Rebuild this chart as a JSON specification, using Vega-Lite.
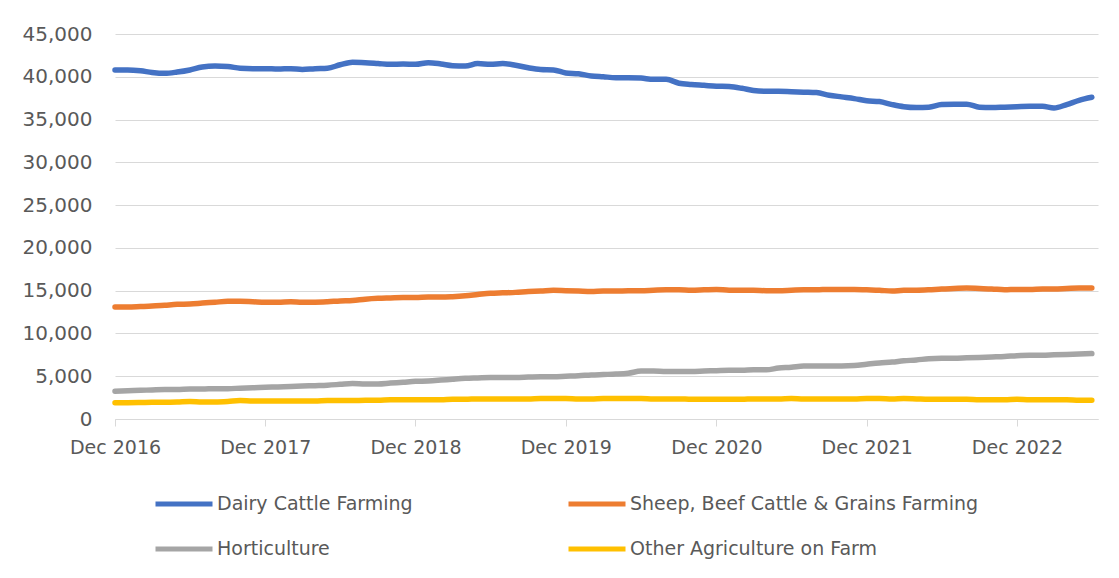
{
  "$schema": "https://vega.github.io/schema/vega-lite/v6.json",
  "autosize": {"type": "none"},
  "width": 983,
  "height": 385,
  "padding": {"left": 115, "top": 34, "right": 21, "bottom": 159},
  "background": "white",
  "config": {
    "view": {"stroke": null},
    "font": "DejaVu Sans"
  },
  "data": {
    "values": [
      {"m": "2016/12/01", "dairy": 40800, "sheep": 13100, "hort": 3250, "other": 1900},
      {"m": "2017/01/01", "dairy": 40800, "sheep": 13100, "hort": 3300, "other": 1900},
      {"m": "2017/02/01", "dairy": 40700, "sheep": 13150, "hort": 3350, "other": 1920},
      {"m": "2017/03/01", "dairy": 40500, "sheep": 13200, "hort": 3400, "other": 1950},
      {"m": "2017/04/01", "dairy": 40400, "sheep": 13300, "hort": 3450, "other": 1950},
      {"m": "2017/05/01", "dairy": 40550, "sheep": 13400, "hort": 3450, "other": 1980},
      {"m": "2017/06/01", "dairy": 40800, "sheep": 13450, "hort": 3500, "other": 2050},
      {"m": "2017/07/01", "dairy": 41150, "sheep": 13550, "hort": 3500, "other": 2000},
      {"m": "2017/08/01", "dairy": 41250, "sheep": 13650, "hort": 3550, "other": 2000},
      {"m": "2017/09/01", "dairy": 41200, "sheep": 13750, "hort": 3550, "other": 2050},
      {"m": "2017/10/01", "dairy": 41000, "sheep": 13750, "hort": 3600, "other": 2150},
      {"m": "2017/11/01", "dairy": 40950, "sheep": 13700, "hort": 3650, "other": 2100},
      {"m": "2017/12/01", "dairy": 40950, "sheep": 13650, "hort": 3700, "other": 2100},
      {"m": "2018/01/01", "dairy": 40900, "sheep": 13650, "hort": 3750, "other": 2100},
      {"m": "2018/02/01", "dairy": 40950, "sheep": 13700, "hort": 3800, "other": 2100},
      {"m": "2018/03/01", "dairy": 40850, "sheep": 13650, "hort": 3850, "other": 2100},
      {"m": "2018/04/01", "dairy": 40950, "sheep": 13650, "hort": 3900, "other": 2100},
      {"m": "2018/05/01", "dairy": 41000, "sheep": 13700, "hort": 3950, "other": 2150},
      {"m": "2018/06/01", "dairy": 41400, "sheep": 13800, "hort": 4050, "other": 2150},
      {"m": "2018/07/01", "dairy": 41700, "sheep": 13850, "hort": 4150, "other": 2150},
      {"m": "2018/08/01", "dairy": 41650, "sheep": 14000, "hort": 4100, "other": 2200},
      {"m": "2018/09/01", "dairy": 41550, "sheep": 14100, "hort": 4100, "other": 2200},
      {"m": "2018/10/01", "dairy": 41450, "sheep": 14150, "hort": 4200, "other": 2250},
      {"m": "2018/11/01", "dairy": 41500, "sheep": 14200, "hort": 4300, "other": 2250},
      {"m": "2018/12/01", "dairy": 41450, "sheep": 14200, "hort": 4400, "other": 2250},
      {"m": "2019/01/01", "dairy": 41650, "sheep": 14250, "hort": 4450, "other": 2250},
      {"m": "2019/02/01", "dairy": 41500, "sheep": 14250, "hort": 4550, "other": 2250},
      {"m": "2019/03/01", "dairy": 41300, "sheep": 14300, "hort": 4650, "other": 2300},
      {"m": "2019/04/01", "dairy": 41250, "sheep": 14400, "hort": 4750, "other": 2300},
      {"m": "2019/05/01", "dairy": 41550, "sheep": 14550, "hort": 4800, "other": 2350},
      {"m": "2019/06/01", "dairy": 41450, "sheep": 14700, "hort": 4850, "other": 2350},
      {"m": "2019/07/01", "dairy": 41550, "sheep": 14750, "hort": 4850, "other": 2350},
      {"m": "2019/08/01", "dairy": 41350, "sheep": 14800, "hort": 4850, "other": 2350},
      {"m": "2019/09/01", "dairy": 41050, "sheep": 14900, "hort": 4900, "other": 2350},
      {"m": "2019/10/01", "dairy": 40850, "sheep": 14950, "hort": 4950, "other": 2400},
      {"m": "2019/11/01", "dairy": 40800, "sheep": 15050, "hort": 4950, "other": 2400},
      {"m": "2019/12/01", "dairy": 40450, "sheep": 15000, "hort": 5000, "other": 2400},
      {"m": "2020/01/01", "dairy": 40350, "sheep": 14950, "hort": 5050, "other": 2350},
      {"m": "2020/02/01", "dairy": 40100, "sheep": 14900, "hort": 5150, "other": 2350},
      {"m": "2020/03/01", "dairy": 40000, "sheep": 14950, "hort": 5200, "other": 2400},
      {"m": "2020/04/01", "dairy": 39900, "sheep": 14950, "hort": 5250, "other": 2400},
      {"m": "2020/05/01", "dairy": 39900, "sheep": 15000, "hort": 5350, "other": 2400},
      {"m": "2020/06/01", "dairy": 39850, "sheep": 15000, "hort": 5600, "other": 2400},
      {"m": "2020/07/01", "dairy": 39700, "sheep": 15050, "hort": 5600, "other": 2350},
      {"m": "2020/08/01", "dairy": 39700, "sheep": 15100, "hort": 5550, "other": 2350},
      {"m": "2020/09/01", "dairy": 39250, "sheep": 15100, "hort": 5550, "other": 2350},
      {"m": "2020/10/01", "dairy": 39100, "sheep": 15050, "hort": 5550, "other": 2300},
      {"m": "2020/11/01", "dairy": 39000, "sheep": 15100, "hort": 5600, "other": 2300},
      {"m": "2020/12/01", "dairy": 38900, "sheep": 15150, "hort": 5650, "other": 2300},
      {"m": "2021/01/01", "dairy": 38850, "sheep": 15050, "hort": 5700, "other": 2300},
      {"m": "2021/02/01", "dairy": 38650, "sheep": 15050, "hort": 5700, "other": 2300},
      {"m": "2021/03/01", "dairy": 38400, "sheep": 15050, "hort": 5750, "other": 2350},
      {"m": "2021/04/01", "dairy": 38300, "sheep": 15000, "hort": 5750, "other": 2350},
      {"m": "2021/05/01", "dairy": 38300, "sheep": 15000, "hort": 5950, "other": 2350},
      {"m": "2021/06/01", "dairy": 38250, "sheep": 15050, "hort": 6050, "other": 2400},
      {"m": "2021/07/01", "dairy": 38200, "sheep": 15100, "hort": 6200, "other": 2350},
      {"m": "2021/08/01", "dairy": 38150, "sheep": 15100, "hort": 6200, "other": 2350},
      {"m": "2021/09/01", "dairy": 37850, "sheep": 15150, "hort": 6200, "other": 2350},
      {"m": "2021/10/01", "dairy": 37650, "sheep": 15150, "hort": 6200, "other": 2350},
      {"m": "2021/11/01", "dairy": 37450, "sheep": 15150, "hort": 6250, "other": 2350},
      {"m": "2021/12/01", "dairy": 37200, "sheep": 15100, "hort": 6400, "other": 2400},
      {"m": "2022/01/01", "dairy": 37100, "sheep": 15050, "hort": 6550, "other": 2400},
      {"m": "2022/02/01", "dairy": 36750, "sheep": 14950, "hort": 6650, "other": 2350},
      {"m": "2022/03/01", "dairy": 36500, "sheep": 15050, "hort": 6800, "other": 2400},
      {"m": "2022/04/01", "dairy": 36400, "sheep": 15050, "hort": 6900, "other": 2350},
      {"m": "2022/05/01", "dairy": 36450, "sheep": 15100, "hort": 7050, "other": 2300},
      {"m": "2022/06/01", "dairy": 36750, "sheep": 15200, "hort": 7100, "other": 2300},
      {"m": "2022/07/01", "dairy": 36800, "sheep": 15250, "hort": 7100, "other": 2300},
      {"m": "2022/08/01", "dairy": 36800, "sheep": 15300, "hort": 7150, "other": 2300},
      {"m": "2022/09/01", "dairy": 36450, "sheep": 15250, "hort": 7200, "other": 2250},
      {"m": "2022/10/01", "dairy": 36400, "sheep": 15200, "hort": 7250, "other": 2250},
      {"m": "2022/11/01", "dairy": 36450, "sheep": 15100, "hort": 7300, "other": 2250},
      {"m": "2022/12/01", "dairy": 36500, "sheep": 15150, "hort": 7400, "other": 2300},
      {"m": "2023/01/01", "dairy": 36550, "sheep": 15150, "hort": 7450, "other": 2250},
      {"m": "2023/02/01", "dairy": 36550, "sheep": 15200, "hort": 7450, "other": 2250},
      {"m": "2023/03/01", "dairy": 36350, "sheep": 15200, "hort": 7500, "other": 2250},
      {"m": "2023/04/01", "dairy": 36750, "sheep": 15250, "hort": 7550, "other": 2250},
      {"m": "2023/05/01", "dairy": 37250, "sheep": 15300, "hort": 7600, "other": 2200},
      {"m": "2023/06/01", "dairy": 37600, "sheep": 15300, "hort": 7650, "other": 2200}
    ]
  },
  "transform": [
    {"fold": ["dairy", "sheep", "hort", "other"], "as": ["series", "value"]}
  ],
  "mark": {"type": "line", "strokeWidth": 5.5, "interpolate": "monotone", "strokeCap": "round", "strokeJoin": "round", "clip": false},
  "encoding": {
    "x": {
      "field": "m",
      "type": "temporal",
      "scale": {"domain": [{"year": 2016, "month": 12, "date": 1}, {"year": 2023, "month": 6, "date": 16}]},
      "axis": {
        "title": null,
        "values": [
          {"year": 2016, "month": 12, "date": 1},
          {"year": 2017, "month": 12, "date": 1},
          {"year": 2018, "month": 12, "date": 1},
          {"year": 2019, "month": 12, "date": 1},
          {"year": 2020, "month": 12, "date": 1},
          {"year": 2021, "month": 12, "date": 1},
          {"year": 2022, "month": 12, "date": 1}
        ],
        "format": "%b %Y",
        "grid": false,
        "domainColor": "#D9D9D9",
        "domainWidth": 1,
        "tickColor": "#D9D9D9",
        "tickSize": 7,
        "labelPadding": 12,
        "labelFont": "DejaVu Sans",
        "labelFontSize": 19,
        "labelColor": "#595959",
        "labelFlush": false,
        "labelOverlap": false
      }
    },
    "y": {
      "field": "value",
      "type": "quantitative",
      "scale": {"domain": [0, 45000]},
      "axis": {
        "title": null,
        "values": [0, 5000, 10000, 15000, 20000, 25000, 30000, 35000, 40000, 45000],
        "format": ",.0f",
        "domain": false,
        "ticks": false,
        "gridColor": "#D9D9D9",
        "gridWidth": 1,
        "labelPadding": 23,
        "labelFont": "DejaVu Sans",
        "labelFontSize": 20,
        "labelColor": "#595959"
      }
    },
    "color": {
      "field": "series",
      "type": "nominal",
      "scale": {
        "domain": ["dairy", "sheep", "hort", "other"],
        "range": ["#4472C4", "#ED7D31", "#A5A5A5", "#FFC000"]
      },
      "legend": {
        "title": null,
        "orient": "none",
        "legendX": 38,
        "legendY": 439,
        "direction": "horizontal",
        "columns": 2,
        "columnPadding": 145,
        "rowPadding": 4,
        "symbolType": "stroke",
        "symbolSize": 3249,
        "symbolStrokeWidth": 5,
        "labelOffset": 2,
        "labelFont": "DejaVu Sans",
        "labelFontSize": 19,
        "labelColor": "#595959",
        "labelLimit": 500,
        "labelExpr": "datum.label == 'dairy' ? 'Dairy Cattle Farming' : datum.label == 'sheep' ? 'Sheep, Beef Cattle & Grains Farming' : datum.label == 'hort' ? 'Horticulture' : 'Other Agriculture on Farm'"
      }
    }
  }
}
